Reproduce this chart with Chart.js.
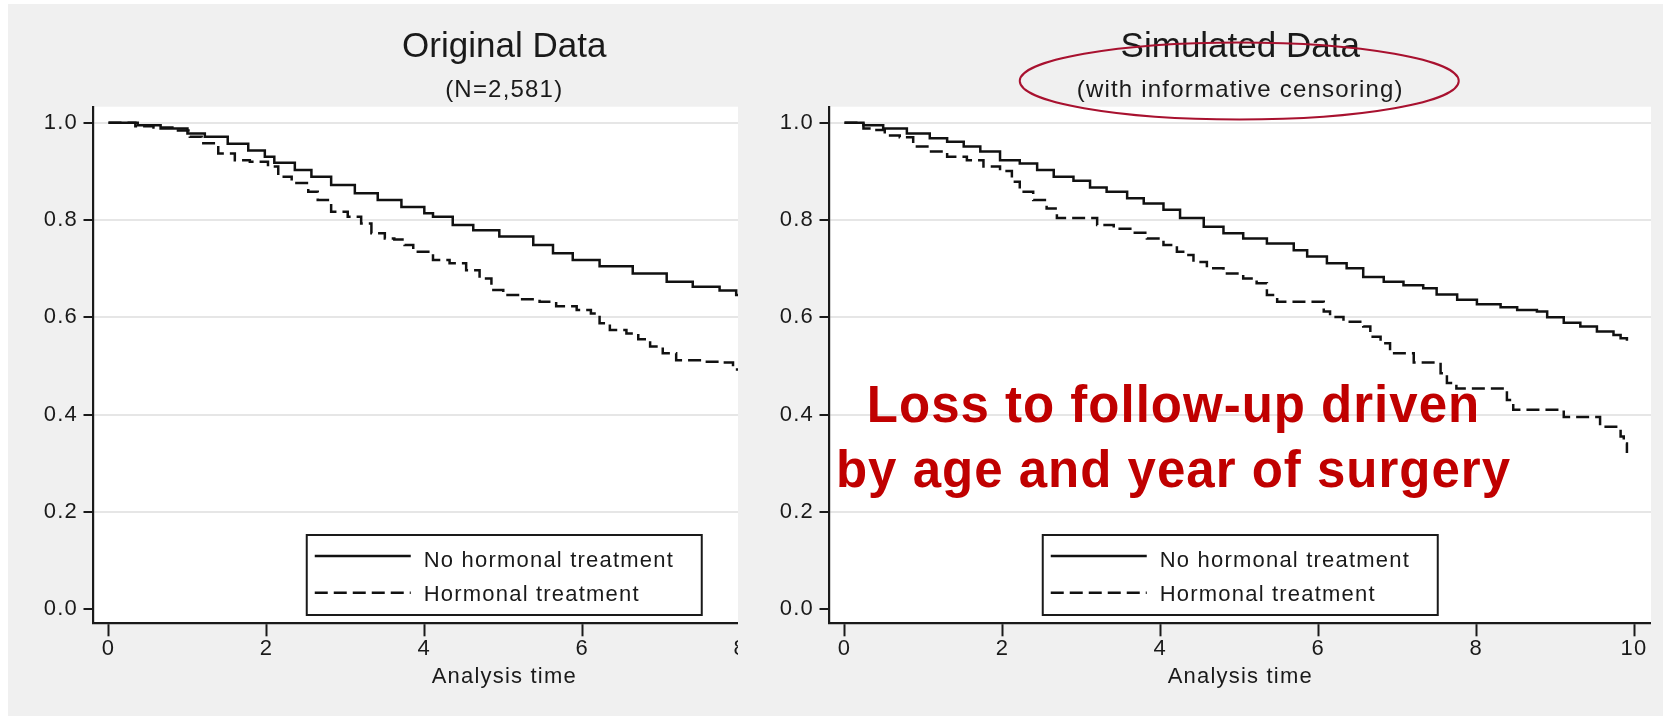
<!DOCTYPE html>
<html>
<head>
<meta charset="utf-8">
<title>Kaplan-Meier survival: original vs simulated data</title>
<script src="https://cdn.jsdelivr.net/npm/chart.js@4.4.1/dist/chart.umd.min.js"></script>
<style>
  html, body { margin: 0; padding: 0; background: #ffffff; width: 1672px; height: 720px; overflow: hidden; }
  #panel { position: absolute; left: 8px; top: 4px; width: 1655px; height: 712px; background: #f0f0f0; }
  #origClip { position: absolute; left: 24px; top: 0; width: 714px; height: 716px; overflow: hidden; }
  #origClip canvas { position: absolute; left: 0; top: 0; }
  #sim { position: absolute; left: 760px; top: 0; }
</style>
</head>
<body>
<div id="panel"></div>
<div id="origClip"><canvas id="orig" width="891" height="716"></canvas></div>
<canvas id="sim" width="891" height="716"></canvas>

<script>
// ---- Axis ticks and labels ----
const xTicks = [0, 2, 4, 6, 8, 10];
const yTicks = [0, 0.2, 0.4, 0.6, 0.8, 1.0];
const xAxisTitle = 'Analysis time';
const seriesLabels = ['No hormonal treatment', 'Hormonal treatment'];
const panelTitles = ['Original Data', 'Simulated Data'];
const panelSubtitles = ['(N=2,581)', '(with informative censoring)'];
const noteLines = ['Loss to follow-up driven', 'by age and year of surgery'];

// ---- Original data: Kaplan-Meier estimates (time in years, survival) ----
const origNoHormTime = [0, 0.37, 0.66, 1.0, 1.22, 1.51, 1.77, 1.98, 2.1, 2.36, 2.57, 2.82, 3.12, 3.41, 3.71, 4.0, 4.11, 4.36, 4.62, 4.95, 5.38, 5.63, 5.88, 6.22, 6.64, 7.07, 7.4, 7.74, 7.95, 8.05];
const origNoHormSurv = [1.0, 0.995, 0.988, 0.978, 0.971, 0.957, 0.943, 0.930, 0.918, 0.903, 0.889, 0.872, 0.855, 0.841, 0.827, 0.814, 0.807, 0.790, 0.779, 0.766, 0.749, 0.732, 0.718, 0.705, 0.690, 0.673, 0.663, 0.655, 0.646, 0.644];

const origHormTime = [0, 0.34, 0.57, 0.85, 1.03, 1.18, 1.39, 1.6, 1.79, 2.02, 2.15, 2.32, 2.53, 2.65, 2.82, 3.03, 3.2, 3.33, 3.5, 3.62, 3.75, 3.86, 4.11, 4.32, 4.53, 4.70, 4.85, 5.0, 5.21, 5.46, 5.67, 5.93, 6.11, 6.22, 6.35, 6.56, 6.71, 6.86, 7.02, 7.19, 7.49, 7.74, 7.91, 8.05];
const origHormSurv = [1.0, 0.993, 0.990, 0.984, 0.971, 0.958, 0.937, 0.923, 0.920, 0.910, 0.889, 0.876, 0.858, 0.841, 0.817, 0.807, 0.793, 0.773, 0.762, 0.760, 0.749, 0.735, 0.718, 0.711, 0.697, 0.680, 0.656, 0.646, 0.637, 0.632, 0.623, 0.615, 0.608, 0.588, 0.574, 0.567, 0.555, 0.540, 0.526, 0.512, 0.509, 0.507, 0.493, 0.493];

// ---- Simulated data with informative censoring ----
const simNoHormTime = [0, 0.24, 0.49, 0.79, 1.08, 1.30, 1.51, 1.72, 1.97, 2.22, 2.44, 2.65, 2.9, 3.11, 3.32, 3.58, 3.79, 4.04, 4.25, 4.55, 4.8, 5.05, 5.35, 5.69, 5.86, 6.11, 6.36, 6.57, 6.83, 7.08, 7.33, 7.50, 7.76, 8.01, 8.31, 8.52, 8.77, 8.9, 9.11, 9.32, 9.53, 9.74, 9.83, 9.91];
const simNoHormSurv = [1.0, 0.995, 0.988, 0.978, 0.968, 0.961, 0.951, 0.941, 0.923, 0.916, 0.903, 0.889, 0.881, 0.867, 0.858, 0.845, 0.834, 0.821, 0.804, 0.786, 0.773, 0.762, 0.752, 0.738, 0.725, 0.711, 0.701, 0.683, 0.673, 0.666, 0.660, 0.647, 0.636, 0.627, 0.621, 0.615, 0.612, 0.600, 0.589, 0.581, 0.571, 0.564, 0.557, 0.552];

const simHormTime = [0, 0.24, 0.37, 0.51, 0.70, 0.87, 1.08, 1.30, 1.55, 1.76, 1.97, 2.12, 2.22, 2.39, 2.56, 2.69, 3.2, 3.41, 3.62, 3.83, 4.04, 4.21, 4.29, 4.42, 4.59, 4.8, 5.05, 5.22, 5.35, 5.48, 6.07, 6.15, 6.32, 6.57, 6.66, 6.79, 6.91, 7.21, 7.55, 7.63, 7.75, 8.39, 8.47, 9.11, 9.57, 9.83, 9.87, 9.91];
const simHormSurv = [1.0, 0.988, 0.985, 0.974, 0.970, 0.951, 0.941, 0.930, 0.923, 0.910, 0.901, 0.879, 0.858, 0.841, 0.824, 0.804, 0.790, 0.782, 0.774, 0.762, 0.749, 0.735, 0.728, 0.714, 0.701, 0.690, 0.680, 0.670, 0.646, 0.632, 0.612, 0.601, 0.591, 0.581, 0.560, 0.547, 0.526, 0.507, 0.485, 0.465, 0.454, 0.430, 0.410, 0.395, 0.375, 0.355, 0.341, 0.321];

// ---- Styling ----
const FAMILY = '"Liberation Sans", Arial, Helvetica, sans-serif';
const INK = '#1a1a1a';
const LINE = '#111111';
const GRID = '#e6e6e6';
const SPACING = '1.2px';
const DASH = [13, 6];

Chart.defaults.font.family = FAMILY;
Chart.defaults.color = INK;

function kmSeries(times, surv, label, dash) {
  return {
    label: label,
    data: times.map((t, i) => ({ x: t, y: surv[i] })),
    borderColor: LINE,
    borderWidth: 2.5,
    borderDash: dash,
    pointRadius: 0,
    stepped: 'before',
    fill: false
  };
}

// Titles above the plot region, legend box inside it, and optional annotations
const panelText = {
  id: 'panelText',
  beforeUpdate(chart) { chart.ctx.letterSpacing = SPACING; },
  beforeLayout(chart) { chart.ctx.letterSpacing = SPACING; },
  beforeDraw(chart) {
    const { ctx, chartArea: a } = chart;
    ctx.letterSpacing = SPACING;
    ctx.save();
    ctx.fillStyle = '#ffffff';
    ctx.fillRect(a.left, a.top, a.right - a.left, a.bottom - a.top);
    ctx.restore();
  },
  afterDraw(chart, args, opts) {
    const { ctx, chartArea: a } = chart;
    const cx = (a.left + a.right) / 2;
    ctx.save();

    // title and subtitle
    ctx.fillStyle = INK;
    ctx.textAlign = 'center';
    ctx.textBaseline = 'alphabetic';
    ctx.letterSpacing = '0px';
    ctx.font = '35px ' + FAMILY;
    ctx.fillText(opts.title, cx, a.top - 50);
    ctx.letterSpacing = SPACING;
    ctx.font = '24px ' + FAMILY;
    ctx.fillText(opts.subtitle, cx, a.top - 10);

    // legend box, centred in the plot region near the x axis
    const w = 395, h = 80;
    const bx = cx - w / 2, by = a.bottom - 8.3 - h;
    ctx.fillStyle = '#ffffff';
    ctx.fillRect(bx, by, w, h);
    ctx.lineWidth = 2;
    ctx.strokeStyle = INK;
    ctx.setLineDash([]);
    ctx.strokeRect(bx, by, w, h);
    ctx.textAlign = 'left';
    ctx.font = '22px ' + FAMILY;
    chart.data.datasets.forEach((ds, i) => {
      const ly = by + 21 + i * 36.7;
      ctx.strokeStyle = ds.borderColor;
      ctx.lineWidth = ds.borderWidth;
      ctx.setLineDash(ds.borderDash || []);
      ctx.beginPath();
      ctx.moveTo(bx + 8, ly);
      ctx.lineTo(bx + 104, ly);
      ctx.stroke();
      ctx.fillStyle = INK;
      ctx.fillText(ds.label, bx + 117, by + 31.7 + i * 34.3);
    });
    ctx.setLineDash([]);

    // red highlight ring around the subtitle and the red note
    if (opts.note) {
      ctx.strokeStyle = '#a8112f';
      ctx.lineWidth = 2;
      ctx.beginPath();
      ctx.ellipse(cx - 1, a.top - 25.7, 219.5, 38.5, 0, 0, Math.PI * 2);
      ctx.stroke();

      ctx.fillStyle = '#c00000';
      ctx.textAlign = 'center';
      ctx.letterSpacing = '1px';
      ctx.font = 'bold 51px ' + FAMILY;
      ctx.fillText(opts.note[0], a.left + 344, a.top + 315);
      ctx.fillText(opts.note[1], a.left + 344, a.top + 380.5);
    }
    ctx.restore();
  }
};

function kmOptions(title, subtitle, note) {
  return {
    responsive: false,
    animation: false,
    devicePixelRatio: 1,
    events: [],
    layout: { padding: { top: 106.7, left: 0, right: 0, bottom: 0 } },
    plugins: {
      legend: { display: false },
      tooltip: { enabled: false },
      panelText: { title: title, subtitle: subtitle, note: note }
    },
    scales: {
      x: {
        type: 'linear',
        min: -0.19,
        max: 10.215,
        afterFit(s) { s.height = 92.7; },
        afterBuildTicks(s) { s.ticks = xTicks.map(v => ({ value: v })); },
        grid: { drawOnChartArea: false, drawTicks: true, tickLength: 13, tickColor: INK, tickWidth: 2 },
        border: { display: true, color: INK, width: 2.2 },
        ticks: { color: INK, font: { size: 22 }, padding: -1, maxRotation: 0, autoSkip: false,
                 callback: v => String(v) },
        title: { display: true, text: xAxisTitle, color: INK, font: { size: 22 },
                 padding: { top: 0, bottom: 25.8 } }
      },
      y: {
        type: 'linear',
        min: -0.0288,
        max: 1.033,
        afterFit(s) { s.width = 69.5; },
        afterBuildTicks(s) { s.ticks = yTicks.map(v => ({ value: v })); },
        grid: {
          color: c => (c.tick && c.tick.value === 0) ? 'rgba(0,0,0,0)' : GRID,
          lineWidth: 2, tickLength: 10, tickColor: INK, tickWidth: 2
        },
        border: { display: true, color: INK, width: 2.2 },
        ticks: { color: INK, font: { size: 22 }, padding: 5.5, callback: v => Number(v).toFixed(1) }
      }
    }
  };
}

new Chart(document.getElementById('orig'), {
  type: 'line',
  data: {
    datasets: [
      kmSeries(origNoHormTime, origNoHormSurv, seriesLabels[0], []),
      kmSeries(origHormTime, origHormSurv, seriesLabels[1], DASH)
    ]
  },
  options: kmOptions(panelTitles[0], panelSubtitles[0], null),
  plugins: [panelText]
});

new Chart(document.getElementById('sim'), {
  type: 'line',
  data: {
    datasets: [
      kmSeries(simNoHormTime, simNoHormSurv, seriesLabels[0], []),
      kmSeries(simHormTime, simHormSurv, seriesLabels[1], DASH)
    ]
  },
  options: kmOptions(panelTitles[1], panelSubtitles[1], noteLines),
  plugins: [panelText]
});
</script>
</body>
</html>
